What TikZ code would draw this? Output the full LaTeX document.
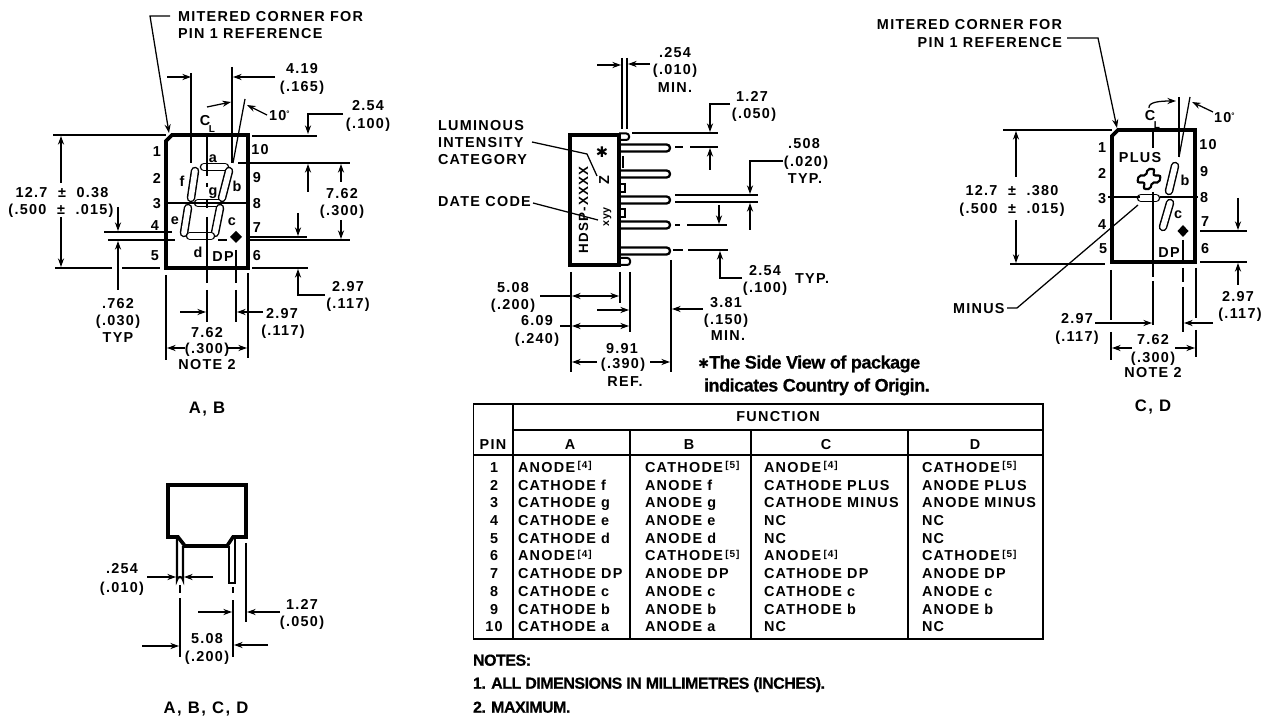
\documentclass[tikz,border=0pt]{standalone}
\usepackage{fontspec}
\setmainfont{Liberation Sans}[LetterSpace=9]
\newfontfamily\tightf{Liberation Sans Bold}[LetterSpace=-3,FakeBold=.5]
\newfontfamily\djv{DejaVu Sans}
\usetikzlibrary{arrows.meta}
\newcounter{tn}
\newcommand{\tx}[3][]{\stepcounter{tn}\node[lab,#1] (t\the\value{tn}) at (#2) {#3};}
\newcommand{\lw}[2]{\draw[dim] #1 -- #2;}
\newcommand{\ar}[2]{\draw[dimarr] #1 -- #2;}
\newcommand{\sg}[2]{\draw[line width=6.4pt,line cap=round] #1 -- #2;\draw[line width=4.2pt,line cap=round,white] #1 -- #2;}
\newcommand{\br}[1]{\raisebox{2.8pt}{\fontsize{7.5pt}{8pt}\selectfont[#1]}}
\tikzset{
  lab/.style={inner sep=0pt,outer sep=0pt,font=\fontsize{10.8pt}{12pt}\selectfont\bfseries,text height=7.7pt,text depth=0pt},
  smallL/.style={font=\fontsize{7.5pt}{8pt}\selectfont\bfseries,text height=5.2pt},
  big/.style={font=\fontsize{12.5pt}{13pt}\selectfont\bfseries,text height=9pt},
  foot/.style={anchor=west,font=\tightf\fontsize{13.6pt}{15pt}\selectfont,text height=9.8pt},
  note/.style={anchor=west,font=\tightf\fontsize{12pt}{14pt}\selectfont,text height=8.6pt},
  dim/.style={line width=.95pt},
  dimarr/.style={line width=.95pt,-{Stealth[length=6.5pt,width=4.6pt]}},
  dimboth/.style={line width=.95pt,{Stealth[length=6.5pt,width=4.6pt]}-{Stealth[length=6.5pt,width=4.6pt]}},
  body/.style={line width=2.7pt},
  cell/.style={line width=1.2pt},
  west/.style={anchor=west},
  east/.style={anchor=east}
}
\begin{document}
\begin{tikzpicture}[x=.75pt,y=-.75pt]
\useasboundingbox (0,0) rectangle (1268,716);
%%% LEFT PACKAGE
\sg{(204,167)}{(225,167)}
\sg{(195,171)}{(191,198)}
\sg{(229,171)}{(222,198)}
\sg{(198,203)}{(218,203)}
\sg{(188,208)}{(184,233)}
\sg{(220,208)}{(215,233)}
\sg{(190,236)}{(211,236)}
\draw[body] (172,135)--(248,135)--(248,268)--(166,268)--(166,141)--cycle;
\lw{(53,135)}{(166,135)}
\lw{(55,268)}{(112,268)}\lw{(122,268)}{(160,268)}
\ar{(61,183)}{(61,136)}\ar{(61,217)}{(61,267)}
\tx{62,192}{12.7 ~± ~0.38}
\tx{61,209}{(.500 ~± ~.015)}
\draw[dimarr] (170,16)--(150,16)--(169,133);
\tx[west]{178,16}{MITERED CORNER FOR}
\tx[west]{178,33}{PIN 1 REFERENCE}
\lw{(191,73)}{(191,163)}\lw{(232,67)}{(232,163)}
\ar{(167,77)}{(191,77)}\ar{(275,77)}{(233,77)}
\tx{302,68}{4.19}\tx{302,86}{(.165)}
\lw{(245,99)}{(233,163)}
\ar{(207,107)}{(231,102)}\ar{(267,115)}{(247,105)}
\tx[west]{269,115}{10\raisebox{3pt}{\fontsize{6pt}{6pt}\selectfont°}}
\tx{205,120}{C}\tx[smallL]{212,129}{L}
\lw{(207,133)}{(207,176)}\lw{(207,183)}{(207,187)}\lw{(207,199)}{(207,208)}\lw{(207,217)}{(207,268)}\lw{(207,270)}{(207,283)}\lw{(207,290)}{(207,322)}
\lw{(166,203)}{(249,203)}
\lw{(238,163)}{(350,163)}
\lw{(248,240)}{(350,240)}\lw{(218,240)}{(227,240)}
\lw{(248,237)}{(307,237)}
\lw{(104,232)}{(172,232)}\lw{(108,240)}{(175,240)}
\ar{(118,207)}{(118,231)}\ar{(118,290)}{(118,241)}
\tx{118,303}{.762}\tx{118,320}{(.030)}\tx{118,337}{TYP}
\draw[dimarr] (343,114)--(308,114)--(308,134);
\lw{(252,136)}{(317,136)}
\tx{368,105}{2.54}\tx{368,123}{(.100)}
\ar{(308,192)}{(308,164)}\ar{(341,182)}{(341,164)}\ar{(341,220)}{(341,239)}\ar{(298,213)}{(298,236)}
\tx{342,193}{7.62}\tx{342,210}{(.300)}
\lw{(252,268)}{(308,268)}
\draw[dimarr] (325,295)--(298,295)--(298,269);
\tx{348,286}{2.97}\tx{348,303}{(.117)}
\lw{(166,275)}{(166,360)}\lw{(248,273)}{(248,358)}
\lw{(236,250)}{(236,268)}\lw{(236,270)}{(236,283)}\lw{(236,290)}{(236,322)}
\ar{(180,312)}{(206,312)}\ar{(263,312)}{(237,312)}
\tx{282,313}{2.97}\tx{283,330}{(.117)}
\tx{207,332}{7.62}\tx{207,348}{(.300)}\tx{207,364}{NOTE 2}
\ar{(185,348)}{(167,348)}\ar{(228,348)}{(247,348)}
\tx[big]{207,408}{A, B}
\tx{157,151}{1}\tx{157,178}{2}\tx{157,203}{3}\tx{155,225}{4}\tx{155,255}{5}
\tx{260,149}{10}\tx{257,177}{9}\tx{257,203}{8}\tx{257,227}{7}\tx{257,255}{6}
\tx{213,157}{a}\tx{237,186}{b}\tx{232,220}{c}\tx{198,252}{d}\tx{175,219}{e}\tx{182,181}{f}\tx{213,190}{g}\tx{223,256}{DP}
\fill (236,231)--(242,237)--(236,243)--(230,237)--cycle;
%%% MIDDLE PACKAGE
\foreach \yy in {148,174,200,225,251}{
  \draw[line width=1.7pt,rounded corners=2.5pt] (619,\yy-3.5)--(670,\yy-3.5)--(670,\yy+3.5)--(619,\yy+3.5);
}
\draw[line width=1.5pt,rounded corners=2pt] (619,133.5)--(629,133.5)--(629,140)--(619,140);
\draw[line width=1.5pt,rounded corners=2pt] (619,258)--(630,258)--(630,265)--(619,265);
\draw[line width=1.3pt] (620,184)--(625,184)--(625,192)--(620,192);
\draw[line width=1.3pt] (620,209)--(625,209)--(625,217)--(620,217);
\draw[line width=1.3pt] (623,156)--(623,168);
\draw[body] (570,135) rectangle (619,265);
\lw{(622,58)}{(622,129)}\lw{(627,58)}{(627,129)}
\ar{(597,65)}{(621,65)}\ar{(650,64)}{(628,64)}
\tx{675,52}{.254}\tx{675,69}{(.010)}\tx{675,87}{MIN.}
\lw{(632,133)}{(718,133)}
\draw[dimarr] (730,104)--(710,104)--(710,132);
\lw{(675,147)}{(683,147)}\lw{(690,147)}{(718,147)}
\ar{(710,170)}{(710,148)}
\tx{752,96}{1.27}\tx{754,113}{(.050)}
\lw{(675,195)}{(758,195)}\lw{(675,202)}{(758,202)}
\draw[dimarr] (783,161)--(750,161)--(750,194);
\ar{(750,230)}{(750,203)}\ar{(719,205)}{(719,224)}
\lw{(675,225)}{(680,225)}\lw{(687,225)}{(727,225)}
\lw{(673,250)}{(683,250)}\lw{(688,250)}{(728,250)}
\draw[dimarr] (742,278)--(720,278)--(720,251);
\tx{765,270}{2.54}\tx{765,287}{(.100)}\tx[west]{795,278}{TYP.}
\tx{804,143}{.508}\tx{806,161}{(.020)}\tx{805,178}{TYP.}
\tx[west]{438,125}{LUMINOUS}\tx[west]{438,142}{INTENSITY}\tx[west]{438,159}{CATEGORY}
\draw[dim] (532,142)--(587,154)--(597,176);
\tx[rotate=90]{604,180}{Z}
\tx[font=\djv\fontsize{11pt}{12pt}\selectfont]{602,152}{✱}
\tx[west]{438,201}{DATE CODE}
\lw{(533,203)}{(598,220)}
\tx[rotate=90,font=\fontsize{10pt}{12pt}\selectfont\bfseries]{583,210}{HDSP-XXXX}
\tx[rotate=90,font=\fontsize{8pt}{9pt}\selectfont\bfseries]{604,217}{xyy}
\lw{(571,272)}{(571,372)}\lw{(620,272)}{(620,303)}\lw{(630,272)}{(630,332)}\lw{(671,260)}{(671,372)}
\lw{(540,296)}{(571,296)}
\draw[dimboth] (572,296)--(619,296);
\lw{(560,326)}{(571,326)}
\draw[dimboth] (572,326)--(629,326);
\ar{(597,310)}{(629,310)}\ar{(703,309)}{(672,309)}
\ar{(597,362)}{(572,362)}\ar{(650,362)}{(670,362)}
\tx{513,287}{5.08}\tx{513,304}{(.200)}
\tx{537,320}{6.09}\tx{537,338}{(.240)}
\tx{726,302}{3.81}\tx{726,319}{(.150)}\tx{728,335}{MIN.}
\tx{622,348}{9.91}\tx{623,363}{(.390)}\tx{625,381}{REF.}
\tx[foot]{698,362}{{\djv\fontsize{10pt}{10pt}\selectfont ✱}The Side View of package}
\tx[foot]{704,385}{indicates Country of Origin.}
%%% RIGHT PACKAGE
\sg{(1175,166)}{(1169,191)}
\sg{(1170,203)}{(1163,227)}
\draw[body] (1118,130)--(1195,130)--(1195,262)--(1112,262)--(1112,136)--cycle;
\sg{(1141,198)}{(1156,198)}
\draw[line width=1.6pt,rounded corners=1.5pt,shift={(1149,179)},xslant=.2]
  (-3.5,-10)--(3.5,-10)--(3.5,-3.5)--(11,-3.5)--(11,3.5)--(3.5,3.5)--(3.5,10)--(-3.5,10)--(-3.5,3.5)--(-11,3.5)--(-11,-3.5)--(-3.5,-3.5)--cycle;
\lw{(1003,130)}{(1112,130)}\lw{(1010,264)}{(1105,264)}
\ar{(1016,177)}{(1016,131)}\ar{(1016,220)}{(1016,263)}
\tx{1012,190}{12.7 ~± ~.380}\tx{1012,208}{(.500 ~± ~.015)}
\tx[east]{1062,24}{MITERED CORNER FOR}\tx[east]{1062,42}{PIN 1 REFERENCE}
\draw[dimarr] (1067,38)--(1098,38)--(1117,128);
\lw{(1153,130)}{(1153,148)}\lw{(1153,192)}{(1153,262)}\lw{(1153,264)}{(1153,277)}\lw{(1153,281)}{(1153,325)}
\draw[dimarr] (1149,108) .. controls (1148,102) and (1160,101) .. (1176,101);
\tx{1150,115}{C}\tx[smallL]{1157,125}{L}
\lw{(1179,97)}{(1179,157)}\lw{(1190,97)}{(1179,157)}
\ar{(1213,112)}{(1192,102)}
\tx[west]{1214,117}{10\raisebox{3pt}{\fontsize{6pt}{6pt}\selectfont°}}
\lw{(1108,197)}{(1140,197)}\lw{(1160,197)}{(1198,197)}
\lw{(1183,240)}{(1183,262)}\lw{(1183,268)}{(1183,282)}\lw{(1183,287)}{(1183,332)}
\fill (1183,225)--(1188.5,231)--(1183,237)--(1177.5,231)--cycle;
\lw{(1200,231)}{(1247,231)}\lw{(1200,262)}{(1247,262)}
\ar{(1238,198)}{(1238,230)}\ar{(1238,285)}{(1238,263)}
\tx{1238,296}{2.97}\tx{1240,313}{(.117)}
\lw{(1111,270)}{(1111,320)}\lw{(1111,332)}{(1111,360)}
\lw{(1196,268)}{(1196,318)}\lw{(1196,330)}{(1196,357)}
\ar{(1095,323)}{(1152,323)}\ar{(1213,323)}{(1184,323)}
\tx{1077,318}{2.97}\tx{1077,336}{(.117)}
\tx{1153,339}{7.62}\tx{1153,357}{(.300)}\tx{1153,372}{NOTE 2}
\ar{(1132,348)}{(1112,348)}\ar{(1175,348)}{(1195,348)}
\tx[big]{1153,406}{C, D}
\tx[west]{953,308}{MINUS}
\draw[dim] (1007,308)--(1017,308)--(1138,205);
\tx{1140,157}{PLUS}\tx{1185,180}{b}\tx{1178,213}{c}\tx{1169,252}{DP}
\tx{1102,147}{1}\tx{1102,173}{2}\tx{1102,198}{3}\tx{1102,224}{4}\tx{1103,248}{5}
\tx{1208,144}{10}\tx{1204,171}{9}\tx{1204,197}{8}\tx{1205,221}{7}\tx{1205,248}{6}
%%% BOTTOM LEFT
\draw[line width=1.6pt] (177,537)--(177,580) arc[start angle=180,end angle=360,x radius=3,y radius=3]--(183,546);
\draw[line width=1.6pt] (229,546)--(229,583)--(235,583)--(235,537);
\draw[body] (168,485)--(246,485)--(246,537)--(233,537)--(227,546)--(185,546)--(178,537)--(168,537)--cycle;
\ar{(147,577)}{(176,577)}\ar{(213,577)}{(184,577)}
\tx{122,568}{.254}\tx{122,587}{(.010)}
\lw{(180,585)}{(180,593)}\lw{(180,598)}{(180,657)}
\lw{(233,587)}{(233,593)}\lw{(233,600)}{(233,657)}
\lw{(246,543)}{(246,622)}
\ar{(198,612)}{(232,612)}\ar{(280,612)}{(247,612)}
\tx{302,604}{1.27}\tx{302,621}{(.050)}
\ar{(142,646)}{(179,646)}\ar{(268,645)}{(234,645)}
\tx{207,638}{5.08}\tx{207,656}{(.200)}
\tx[big]{206,707}{A, B, C, D}
%%% TABLE
\draw[cell] (473.5,404)--(1043,404)--(1043,639)--(473.5,639)--cycle;
\draw[cell] (513,404)--(513,639);
\draw[cell] (513,430)--(1043,430);
\draw[cell] (473.5,455)--(1043,455);
\draw[cell] (630,430)--(630,639);
\draw[cell] (751,430)--(751,639);
\draw[cell] (908,430)--(908,639);
\tx{778,416}{FUNCTION}
\tx{493,444}{PIN}\tx{570,444}{A}\tx{689,444}{B}\tx{826,444}{C}\tx{975,444}{D}
\foreach \n/\yy/\cola/\colb/\colc/\cold in {
 1/467.3/{ANODE\,\br{4}}/{CATHODE\,\br{5}}/{ANODE\,\br{4}}/{CATHODE\,\br{5}},
 2/485/{CATHODE f}/{ANODE f}/{CATHODE PLUS}/{ANODE PLUS},
 3/502.7/{CATHODE g}/{ANODE g}/{CATHODE MINUS}/{ANODE MINUS},
 4/520.4/{CATHODE e}/{ANODE e}/{NC}/{NC},
 5/538.1/{CATHODE d}/{ANODE d}/{NC}/{NC},
 6/555.8/{ANODE\,\br{4}}/{CATHODE\,\br{5}}/{ANODE\,\br{4}}/{CATHODE\,\br{5}},
 7/573.5/{CATHODE DP}/{ANODE DP}/{CATHODE DP}/{ANODE DP},
 8/591.2/{CATHODE c}/{ANODE c}/{CATHODE c}/{ANODE c},
 9/608.9/{CATHODE b}/{ANODE b}/{CATHODE b}/{ANODE b},
 10/626.6/{CATHODE a}/{ANODE a}/{NC}/{NC}}{
  \tx{494,\yy}{\n}
  \tx[west]{518,\yy}{\cola}
  \tx[west]{645,\yy}{\colb}
  \tx[west]{764,\yy}{\colc}
  \tx[west]{922,\yy}{\cold}
}
\tx[note]{473,660}{NOTES:}
\tx[note]{473,683}{1. ALL DIMENSIONS IN MILLIMETRES (INCHES).}
\tx[note]{473,707}{2. MAXIMUM.}
\end{tikzpicture}
\end{document}
